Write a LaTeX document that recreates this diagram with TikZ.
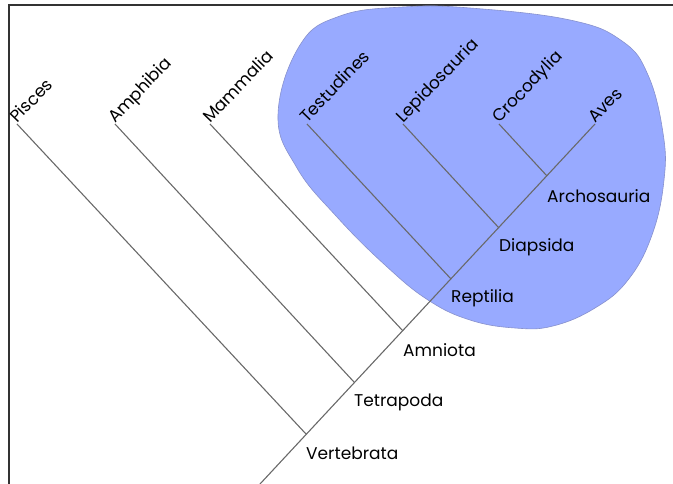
\documentclass[tikz,border=0pt]{standalone}
\usepackage{fontspec}
\setmainfont{Poppins}
\definecolor{blob}{RGB}{152,170,255}
\definecolor{blobedge}{RGB}{135,145,205}
\definecolor{linegray}{RGB}{105,105,105}
\begin{document}
\begin{tikzpicture}[x=1pt,y=-1pt,
  clade/.style={rotate=46,anchor=base west,inner sep=0pt,font=\fontsize{17}{20}\selectfont},
  group/.style={anchor=west,inner sep=0pt,font=\fontsize{17}{20}\selectfont},
  branch/.style={draw=linegray,line width=1.1pt}]
\useasboundingbox (0,0) rectangle (673,484);
\draw[line width=2pt,black!80] (9,484) -- (9,5) -- (673,5);
% reptiles
\filldraw[fill=blob,draw=blobedge,line width=0.6pt] plot[smooth cycle,tension=0.7] coordinates
  {(278,115) (300,45) (340,16) (403,7) (470,8) (570,20) (622,41) (648,75) (663,133)
   (664,180) (652,235) (628,280) (595,308) (553,326) (515,328) (470,320) (428,300)
   (385,265) (337,217) (297,168)};
\coordinate (vert) at (306,434);
\coordinate (tetr) at (354,382);
\coordinate (amni) at (403,331);
\coordinate (rept) at (451,279);
\coordinate (diap) at (499,228);
\coordinate (arch) at (547,176);
\coordinate (root) at (260,484);
\node[clade] (pisc) at (17,124) {Pisces};
\node[clade] (amph) at (115,124) {Amphibia};
\node[clade] (mamm) at (210,124) {Mammalia};
\node[clade] (test) at (307,124) {Testudines};
\node[clade] (lepi) at (403,124) {Lepidosauria};
\node[clade] (croc) at (499,124) {Crocodylia};
\node[clade] (aves) at (595,124) {Aves};
\draw[branch] (root) -- (aves.base west);
\draw[branch] (pisc.base west) -- (vert);
\draw[branch] (amph.base west) -- (tetr);
\draw[branch] (mamm.base west) -- (amni);
\draw[branch] (test.base west) -- (rept);
\draw[branch] (lepi.base west) -- (diap);
\draw[branch] (croc.base west) -- (arch);
\node[group] (vertL) at ([yshift=-19pt]vert) {Vertebrata};
\node[group] (tetrL) at ([yshift=-20pt]tetr) {Tetrapoda};
\node[group] (amniL) at ([yshift=-19pt]amni) {Amniota};
\node[group] (reptL) at ([yshift=-19pt]rept) {Reptilia};
\node[group] (diapL) at ([yshift=-19pt]diap) {Diapsida};
\node[group] (archL) at ([yshift=-20pt]arch) {Archosauria};
\end{tikzpicture}
\end{document}
